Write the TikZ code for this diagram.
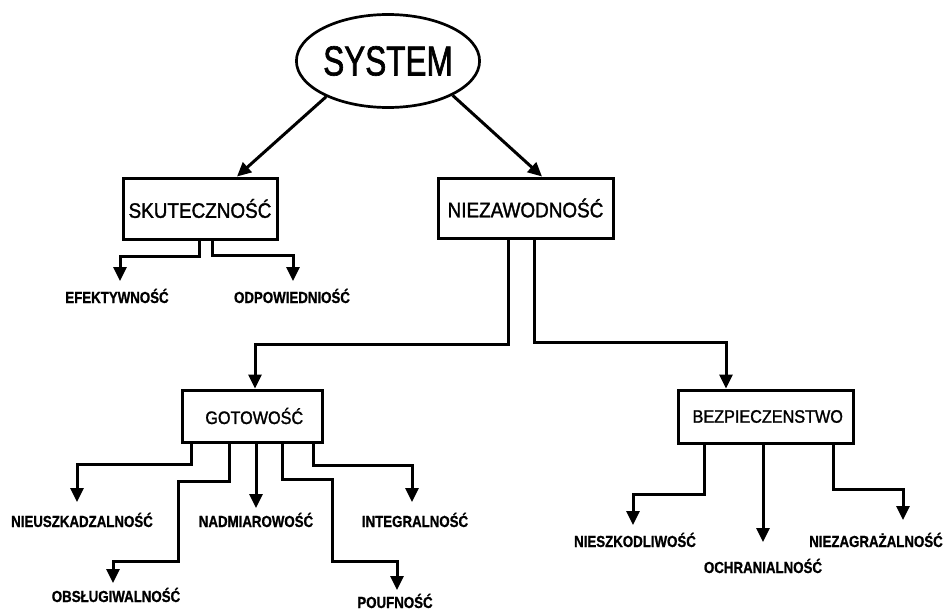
\documentclass[tikz,border=0pt]{standalone}
\usepackage{fontspec}
\setmainfont{Liberation Sans}
\newfontfamily\sysfont[FakeStretch=0.75,FakeBold=1.5]{Liberation Sans}
\newfontfamily\boxfont[FakeStretch=0.9,FakeBold=1.5]{Liberation Sans}
\newfontfamily\lblfont[FakeStretch=0.83,FakeBold=1]{Liberation Sans}
\usetikzlibrary{arrows.meta,shapes.geometric}
\begin{document}
\begin{tikzpicture}[x=1pt,y=-1pt,>={Triangle[length=14pt,width=13pt]},line width=3pt,line join=miter,
	box/.style={draw,rectangle,inner sep=0pt,font=\boxfont\fontsize{21}{21}\selectfont},
	lbl/.style={inner sep=0pt,anchor=base,font=\lblfont\bfseries\fontsize{16}{16}\selectfont}]
	\useasboundingbox (0,0) rectangle (948,610);
	% wezly
	\node[draw,ellipse,minimum width=157pt,minimum height=93pt,inner sep=0pt,line width=2.7pt,font=\sysfont\fontsize{42}{42}\selectfont] (sys) at (388,61) {SYSTEM};
	\node[box,minimum width=154pt,minimum height=61pt] (skut) at (200,208.5) {SKUTECZNOŚĆ};
	\node[box,minimum width=175pt,minimum height=60pt] (niez) at (525.5,208) {NIEZAWODNOŚĆ};
	\node[box,minimum width=140pt,minimum height=52pt,font=\boxfont\fontsize{18}{18}\selectfont] (goto) at (252,416) {~GOTOWOŚĆ};
	\node[box,minimum width=175pt,minimum height=53pt,font=\boxfont\fontsize{18}{18}\selectfont] (bezp) at (765.5,416.5) {~BEZPIECZENSTWO};
	% etykiety
	\node[lbl] (efekt) at (117,303) {EFEKTYWNOŚĆ};
	\node[lbl] (odp) at (292,303) {ODPOWIEDNIOŚĆ};
	\node[lbl] (nieusz) at (82,527) {NIEUSZKADZALNOŚĆ};
	\node[lbl] (nadm) at (256,527) {NADMIAROWOŚĆ};
	\node[lbl] (integ) at (415,527) {INTEGRALNOŚĆ};
	\node[lbl] (obsl) at (116,602) {OBSŁUGIWALNOŚĆ};
	\node[lbl] (pouf) at (395,608) {POUFNOŚĆ};
	\node[lbl] (nieszk) at (635,547) {NIESZKODLIWOŚĆ};
	\node[lbl] (ochr) at (763,573) {OCHRANIALNOŚĆ};
	\node[lbl] (niezag) at (876,547) {NIEZAGRAŻALNOŚĆ};
	\coordinate (tEfekt) at (120,281);
	\coordinate (tOdp) at (293,281);
	\coordinate (tNieusz) at (77,502);
	\coordinate (tObsl) at (113,583);
	\coordinate (tNadm) at (256,508);
	\coordinate (tPouf) at (397,590);
	\coordinate (tInteg) at (412,502);
	\coordinate (tNieszk) at (633,525);
	\coordinate (tOchr) at (763,542);
	\coordinate (tNiezag) at (903,520);
	% polaczenia
	\draw[->] (sys.-150)--([xshift=37pt]skut.north);
	\draw[->] (sys.-28)--([xshift=16.5pt]niez.north);
	\draw[->] ([xshift=-17.5pt]niez.south)--++(0,105)-|([xshift=3pt]goto.north);
	\draw[->] ([xshift=8.5pt]niez.south)--++(0,103)-|([xshift=-39.5pt]bezp.north);
	\draw[->] ([xshift=-1pt]skut.south)--++(0,16)-|(tEfekt);
	\draw[->] ([xshift=12pt]skut.south)--++(0,15)-|(tOdp);
	\draw[->] ([xshift=-61pt]goto.south)--++(0,21)-|(tNieusz);
	\draw[->] ([xshift=-23pt]goto.south)--++(0,38)--++(-51,0)--++(0,80)-|(tObsl);
	\draw[->] ([xshift=4pt]goto.south)--(tNadm);
	\draw[->] ([xshift=30pt]goto.south)--++(0,36)--++(50,0)--++(0,82)-|(tPouf);
	\draw[->] ([xshift=61pt]goto.south)--++(0,22)-|(tInteg);
	\draw[->] ([xshift=-61.5pt]bezp.south)--++(0,50)-|(tNieszk);
	\draw[->] ([xshift=-2.5pt]bezp.south)--(tOchr);
	\draw[->] ([xshift=67.5pt]bezp.south)--++(0,45)-|(tNiezag);
\end{tikzpicture}
\end{document}
